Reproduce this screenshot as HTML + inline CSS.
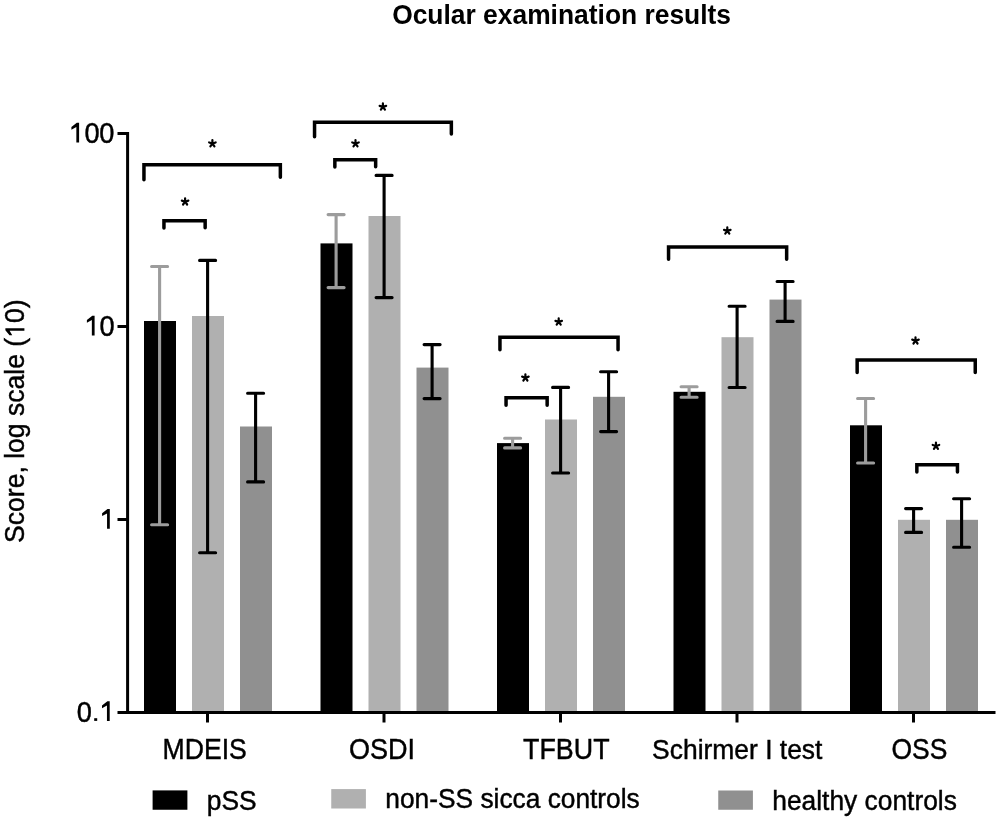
<!DOCTYPE html>
<html><head><meta charset="utf-8"><style>
html,body{margin:0;padding:0;background:#fff;}
svg{display:block;will-change:transform;}
.t{font-family:"Liberation Sans",sans-serif;fill:#000;}
</style></head><body>
<svg width="1000" height="820" viewBox="0 0 1000 820">
<rect x="144" y="321" width="32" height="391.5" fill="#000"/>
<rect x="192" y="316" width="32" height="396.5" fill="#b0b0b0"/>
<rect x="240" y="426.5" width="32" height="286.0" fill="#909090"/>
<rect x="320.5" y="243.4" width="32" height="469.1" fill="#000"/>
<rect x="368.5" y="216" width="32" height="496.5" fill="#b0b0b0"/>
<rect x="416.5" y="367.6" width="32" height="344.9" fill="#909090"/>
<rect x="497" y="443.1" width="32" height="269.4" fill="#000"/>
<rect x="545" y="419.5" width="32" height="293.0" fill="#b0b0b0"/>
<rect x="593" y="396.8" width="32" height="315.7" fill="#909090"/>
<rect x="673.5" y="391.8" width="32" height="320.7" fill="#000"/>
<rect x="721.5" y="337.2" width="32" height="375.3" fill="#b0b0b0"/>
<rect x="769.5" y="299.6" width="32" height="412.9" fill="#909090"/>
<rect x="850" y="425.3" width="32" height="287.2" fill="#000"/>
<rect x="898" y="519.8" width="32" height="192.70000000000005" fill="#b0b0b0"/>
<rect x="946" y="519.8" width="32" height="192.70000000000005" fill="#909090"/>
<path d="M159.6 266.5V524.8M151.6 266.5H167.6M151.6 524.8H167.6" stroke="#9c9c9c" stroke-width="3.1" stroke-linecap="round" fill="none"/>
<path d="M207.6 260.4V552.8M199.6 260.4H215.6M199.6 552.8H215.6" stroke="#000" stroke-width="3.1" stroke-linecap="round" fill="none"/>
<path d="M255.6 393.2V481.9M247.6 393.2H263.6M247.6 481.9H263.6" stroke="#000" stroke-width="3.1" stroke-linecap="round" fill="none"/>
<path d="M336.1 214.6V287.6M328.1 214.6H344.1M328.1 287.6H344.1" stroke="#9c9c9c" stroke-width="3.1" stroke-linecap="round" fill="none"/>
<path d="M384.1 175.4V297.6M376.1 175.4H392.1M376.1 297.6H392.1" stroke="#000" stroke-width="3.1" stroke-linecap="round" fill="none"/>
<path d="M432.1 344.6V398.6M424.1 344.6H440.1M424.1 398.6H440.1" stroke="#000" stroke-width="3.1" stroke-linecap="round" fill="none"/>
<path d="M512.6 438.2V447.9M504.6 438.2H520.6M504.6 447.9H520.6" stroke="#9c9c9c" stroke-width="3.1" stroke-linecap="round" fill="none"/>
<path d="M560.6 387.4V473.0M552.6 387.4H568.6M552.6 473.0H568.6" stroke="#000" stroke-width="3.1" stroke-linecap="round" fill="none"/>
<path d="M608.6 371.8V431.6M600.6 371.8H616.6M600.6 431.6H616.6" stroke="#000" stroke-width="3.1" stroke-linecap="round" fill="none"/>
<path d="M689.1 386.7V397.3M681.1 386.7H697.1M681.1 397.3H697.1" stroke="#9c9c9c" stroke-width="3.1" stroke-linecap="round" fill="none"/>
<path d="M737.1 306.2V387.5M729.1 306.2H745.1M729.1 387.5H745.1" stroke="#000" stroke-width="3.1" stroke-linecap="round" fill="none"/>
<path d="M785.1 281.5V321.4M777.1 281.5H793.1M777.1 321.4H793.1" stroke="#000" stroke-width="3.1" stroke-linecap="round" fill="none"/>
<path d="M865.6 398.5V463.0M857.6 398.5H873.6M857.6 463.0H873.6" stroke="#9c9c9c" stroke-width="3.1" stroke-linecap="round" fill="none"/>
<path d="M913.6 508.6V532.4M905.6 508.6H921.6M905.6 532.4H921.6" stroke="#000" stroke-width="3.1" stroke-linecap="round" fill="none"/>
<path d="M961.6 498.7V547.2M953.6 498.7H969.6M953.6 547.2H969.6" stroke="#000" stroke-width="3.1" stroke-linecap="round" fill="none"/>
<path d="M127.6 131.9V714M117.5 133.4H129M117.5 326.4H129M117.5 519.4H129M117.5 712.4H129" stroke="#000" stroke-width="3" fill="none"/>
<path d="M126.1 712.4H995.5" stroke="#000" stroke-width="3" fill="none"/>
<path d="M207.5 712V722.5" stroke="#000" stroke-width="3" fill="none"/>
<path d="M384.0 712V722.5" stroke="#000" stroke-width="3" fill="none"/>
<path d="M560.5 712V722.5" stroke="#000" stroke-width="3" fill="none"/>
<path d="M737.0 712V722.5" stroke="#000" stroke-width="3" fill="none"/>
<path d="M913.5 712V722.5" stroke="#000" stroke-width="3" fill="none"/>
<path d="M143.95 179.85V164.70H280.35V177.25" stroke="#000" stroke-width="3.5" stroke-linecap="round" stroke-linejoin="miter" fill="none"/>
<path d="M163.95 228.05V220.75H205.15V227.85" stroke="#000" stroke-width="3.5" stroke-linecap="round" stroke-linejoin="miter" fill="none"/>
<path d="M314.55 136.85V122.15H451.35V134.05" stroke="#000" stroke-width="3.5" stroke-linecap="round" stroke-linejoin="miter" fill="none"/>
<path d="M334.85 167.05V159.85H375.65V166.85" stroke="#000" stroke-width="3.5" stroke-linecap="round" stroke-linejoin="miter" fill="none"/>
<path d="M499.95 349.85V337.35H618.05V349.65" stroke="#000" stroke-width="3.5" stroke-linecap="round" stroke-linejoin="miter" fill="none"/>
<path d="M506.05 405.15V397.85H547.15V405.15" stroke="#000" stroke-width="3.5" stroke-linecap="round" stroke-linejoin="miter" fill="none"/>
<path d="M668.55 259.25V246.95H786.65V259.25" stroke="#000" stroke-width="3.5" stroke-linecap="round" stroke-linejoin="miter" fill="none"/>
<path d="M857.15 372.45V359.95H975.25V372.45" stroke="#000" stroke-width="3.5" stroke-linecap="round" stroke-linejoin="miter" fill="none"/>
<path d="M916.85 472.05V464.85H957.45V472.05" stroke="#000" stroke-width="3.5" stroke-linecap="round" stroke-linejoin="miter" fill="none"/>
<path d="M212.40 143.50L212.40 140.05M212.40 143.50L215.68 142.43M212.40 143.50L214.43 146.29M212.40 143.50L210.37 146.29M212.40 143.50L209.12 142.43" stroke="#000" stroke-width="2.2" stroke-linecap="round" fill="none"/>
<path d="M185.10 201.70L185.10 198.25M185.10 201.70L188.38 200.63M185.10 201.70L187.13 204.49M185.10 201.70L183.07 204.49M185.10 201.70L181.82 200.63" stroke="#000" stroke-width="2.2" stroke-linecap="round" fill="none"/>
<path d="M382.90 106.90L382.90 103.45M382.90 106.90L386.18 105.83M382.90 106.90L384.93 109.69M382.90 106.90L380.87 109.69M382.90 106.90L379.62 105.83" stroke="#000" stroke-width="2.2" stroke-linecap="round" fill="none"/>
<path d="M355.50 143.50L355.50 140.05M355.50 143.50L358.78 142.43M355.50 143.50L357.53 146.29M355.50 143.50L353.47 146.29M355.50 143.50L352.22 142.43" stroke="#000" stroke-width="2.2" stroke-linecap="round" fill="none"/>
<path d="M558.70 321.90L558.70 318.45M558.70 321.90L561.98 320.83M558.70 321.90L560.73 324.69M558.70 321.90L556.67 324.69M558.70 321.90L555.42 320.83" stroke="#000" stroke-width="2.2" stroke-linecap="round" fill="none"/>
<path d="M525.40 377.70L525.40 374.25M525.40 377.70L528.68 376.63M525.40 377.70L527.43 380.49M525.40 377.70L523.37 380.49M525.40 377.70L522.12 376.63" stroke="#000" stroke-width="2.2" stroke-linecap="round" fill="none"/>
<path d="M727.30 230.90L727.30 227.45M727.30 230.90L730.58 229.83M727.30 230.90L729.33 233.69M727.30 230.90L725.27 233.69M727.30 230.90L724.02 229.83" stroke="#000" stroke-width="2.2" stroke-linecap="round" fill="none"/>
<path d="M915.50 340.70L915.50 337.25M915.50 340.70L918.78 339.63M915.50 340.70L917.53 343.49M915.50 340.70L913.47 343.49M915.50 340.70L912.22 339.63" stroke="#000" stroke-width="2.2" stroke-linecap="round" fill="none"/>
<path d="M935.95 446.00L935.95 442.55M935.95 446.00L939.23 444.93M935.95 446.00L937.98 448.79M935.95 446.00L933.92 448.79M935.95 446.00L932.67 444.93" stroke="#000" stroke-width="2.2" stroke-linecap="round" fill="none"/>
<text transform="translate(392.16 23.8) scale(0.9431 1)" font-size="28" font-weight="bold" class="t">Ocular examination results</text>
<path d="M71.40 127.00L76.80 122.70L79.10 122.70L79.10 142.40L76.35 142.40L76.35 127.10L71.40 129.80Z" fill="#000"/>
<text transform="translate(84.44 143.0) scale(0.938 1)" font-size="29" stroke="#000" stroke-width="0.45" class="t">0</text>
<text transform="translate(99.34 143.0) scale(0.938 1)" font-size="29" stroke="#000" stroke-width="0.45" class="t">0</text>
<path d="M86.90 320.00L92.30 315.70L94.60 315.70L94.60 335.40L91.85 335.40L91.85 320.10L86.90 322.80Z" fill="#000"/>
<text transform="translate(99.54 336.0) scale(0.938 1)" font-size="29" stroke="#000" stroke-width="0.45" class="t">0</text>
<path d="M102.10 513.30L107.50 509.00L109.80 509.00L109.80 528.70L107.05 528.70L107.05 513.40L102.10 516.10Z" fill="#000"/>
<text transform="translate(76.74 721.5) scale(0.938 1)" font-size="29" stroke="#000" stroke-width="0.45" class="t">0</text>
<rect x="94.2" y="718.1999999999999" width="3" height="2.7" fill="#000"/>
<path d="M102.00 705.50L107.40 701.20L109.70 701.20L109.70 720.90L106.95 720.90L106.95 705.60L102.00 708.30Z" fill="#000"/>
<text transform="translate(162.57 758.7) scale(0.9169 1)" font-size="29" stroke="#000" stroke-width="0.45" class="t">MDEIS</text>
<text transform="translate(349.07 758.7) scale(0.9313 1)" font-size="29" stroke="#000" stroke-width="0.45" class="t">OSDI</text>
<text transform="translate(523.07 758.7) scale(0.9261 1)" font-size="29" stroke="#000" stroke-width="0.45" class="t">TFBUT</text>
<text transform="translate(652.11 759) scale(0.9438 1)" font-size="28" stroke="#000" stroke-width="0.45" class="t">Schirmer I test</text>
<text transform="translate(891.49 758.7) scale(0.9119 1)" font-size="29" stroke="#000" stroke-width="0.45" class="t">OSS</text>
<g transform="translate(24.4 541) rotate(-90) scale(0.9486 1)"><text x="-2" font-size="28" stroke="#000" stroke-width="0.45" class="t">Score, log scale ( 0)</text><path d="M216.95 -14.87L222.16 -19.02L224.38 -19.02L224.38 0.00L221.73 0.00L221.73 -14.77L216.95 -12.17Z" fill="#000"/></g>
<rect x="152.6" y="790.4" width="34.8" height="19.35" fill="#000"/>
<rect x="331.25" y="789.1" width="34.65" height="19.4" fill="#b0b0b0"/>
<rect x="718.25" y="790.5" width="34.65" height="19.25" fill="#909090"/>
<text transform="translate(206.82 809.5) scale(0.9420 1)" font-size="28" stroke="#000" stroke-width="0.45" class="t">pSS</text>
<text transform="translate(385.32 807.9) scale(0.9403 1)" font-size="28" stroke="#000" stroke-width="0.45" class="t">non-SS sicca controls</text>
<text transform="translate(772.22 809.5) scale(0.9420 1)" font-size="28" stroke="#000" stroke-width="0.45" class="t">healthy controls</text>
</svg>
</body></html>
